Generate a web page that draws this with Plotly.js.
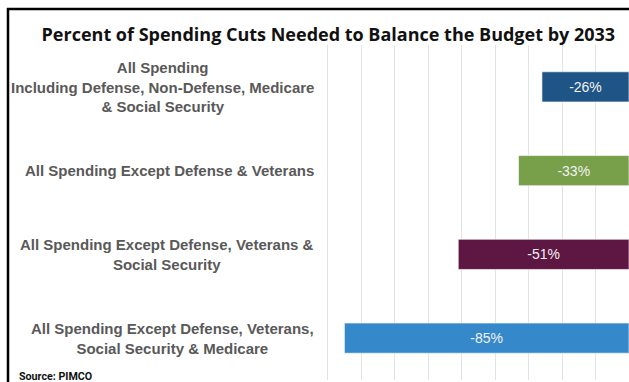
<!DOCTYPE html>
<html>
<head>
<meta charset="utf-8">
<script src="https://cdn.plot.ly/plotly-3.0.1.min.js"></script>
<style>
html,body{margin:0;padding:0;background:#fff;}
#chart{width:629px;height:382px;}
</style>
</head>
<body>
<div id="chart"></div>
<script>
const categories = [
  "All Spending<br>Including Defense, Non-Defense, Medicare<br>& Social Security",
  "All Spending Except Defense & Veterans",
  "All Spending Except Defense, Veterans &<br>Social Security",
  "All Spending Except Defense, Veterans,<br>Social Security & Medicare"
];
const values = [-26, -33, -51, -85];
const barColors = ["#1f5486", "#78a04a", "#5e1742", "#3588c9"];
const titleText = "Percent of Spending Cuts Needed to Balance the Budget by 2033";
const sourceText = "Source: PIMCO";

// layout geometry (pixels)
const W = 629, H = 382;
const M = {l: 326, r: 0, t: 45, b: 2};
const pw = W - M.l - M.r, ph = H - M.t - M.b;
const px = x => (x - M.l) / pw;          // pixel x -> paper x
const py = y => (H - M.b - y) / ph;      // pixel y -> paper y

const trace = {
  type: 'bar',
  orientation: 'h',
  x: values,
  y: categories,
  width: 0.36,
  marker: {color: barColors, line: {color: 'rgba(255,255,255,0.6)', width: 1}},
  text: values.map(v => v + '%'),
  textposition: 'inside',
  insidetextanchor: 'middle',
  textfont: {family: 'Liberation Sans, Arial, sans-serif', size: 14, color: '#f2f2f2'},
  hoverinfo: 'skip'
};

const annotations = categories.map(c => ({
  xref: 'paper', yref: 'y',
  x: px(316), y: c,
  xanchor: 'right', yanchor: 'middle',
  align: 'center',
  text: c,
  showarrow: false,
  font: {family: 'Liberation Sans, Arial, sans-serif', size: 15, color: '#595959', weight: 'bold'}
}));
annotations.push({
  xref: 'paper', yref: 'paper',
  x: px(17), y: py(376),
  xanchor: 'left', yanchor: 'middle',
  text: '<b>' + sourceText + '</b>',
  showarrow: false,
  font: {family: 'Roboto, Arial, sans-serif', size: 10.7, color: '#111'}
});

const layout = {
  width: W, height: H,
  margin: M,
  paper_bgcolor: '#fff',
  plot_bgcolor: '#fff',
  showlegend: false,
  bargap: 0,
  title: {
    text: '<b>' + titleText + '</b>',
    x: 0.522, xref: 'container', xanchor: 'center',
    y: 1 - 35 / H, yref: 'container', yanchor: 'middle',
    font: {family: 'Open Sans, Arial, sans-serif', size: 18, color: '#111'}
  },
  xaxis: {
    range: [-90.5, 0],
    dtick: 10, tick0: 0,
    showgrid: true, gridcolor: '#e3e3e3', gridwidth: 1,
    zeroline: false, showline: false,
    showticklabels: false, ticks: ''
  },
  yaxis: {
    type: 'category',
    categoryorder: 'array', categoryarray: categories,
    range: [3.5, -0.5],
    showgrid: false, zeroline: false, showline: false,
    showticklabels: false, ticks: ''
  },
  annotations: annotations,
  shapes: [
    {type: 'line', xref: 'paper', yref: 'paper', x0: px(7), x1: px(640), y0: py(9), y1: py(9), line: {color: '#000', width: 2.5}},
    {type: 'line', xref: 'paper', yref: 'paper', x0: px(8), x1: px(8), y0: py(8), y1: py(400), line: {color: '#000', width: 2.5}}
  ]
};

Plotly.newPlot('chart', [trace], layout, {displayModeBar: false, staticPlot: true});
</script>
</body>
</html>
